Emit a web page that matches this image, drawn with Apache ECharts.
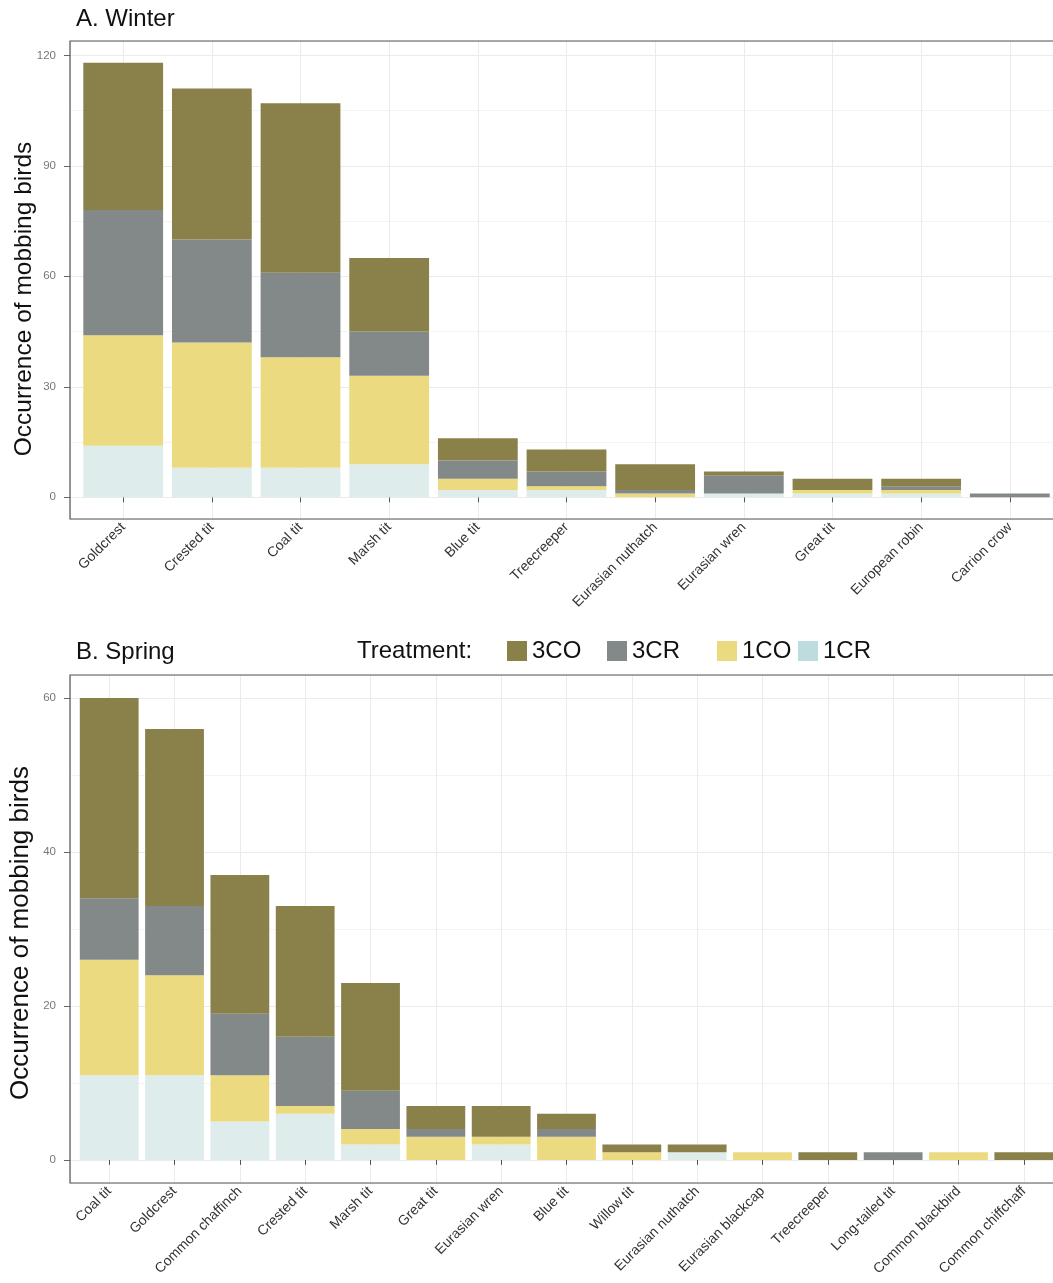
<!DOCTYPE html>
<html>
<head>
<meta charset="utf-8">
<script src="https://cdn.jsdelivr.net/npm/echarts@6/dist/echarts.min.js"></script>
<style>
  html, body { margin: 0; padding: 0; background: #ffffff; }
  #chart { width: 1053px; height: 1283px; }
</style>
</head>
<body>
<div id="chart"></div>
<script>
// Mobbing responses per species, split by treatment (counts)
const winterSpecies = ['Goldcrest', 'Crested tit', 'Coal tit', 'Marsh tit', 'Blue tit', 'Treecreeper',
  'Eurasian nuthatch', 'Eurasian wren', 'Great tit', 'European robin', 'Carrion crow'];
const winter1CR = [14, 8, 8, 9, 2, 2, 0, 1, 1, 1, 0];
const winter1CO = [30, 34, 30, 24, 3, 1, 1, 0, 1, 1, 0];
const winter3CR = [34, 28, 23, 12, 5, 4, 1, 5, 0, 1, 1];
const winter3CO = [40, 41, 46, 20, 6, 6, 7, 1, 3, 2, 0];

const springSpecies = ['Coal tit', 'Goldcrest', 'Common chaffinch', 'Crested tit', 'Marsh tit', 'Great tit',
  'Eurasian wren', 'Blue tit', 'Willow tit', 'Eurasian nuthatch', 'Eurasian blackcap', 'Treecreeper',
  'Long-tailed tit', 'Common blackbird', 'Common chiffchaff'];
const spring1CR = [11, 11, 5, 6, 2, 0, 2, 0, 0, 1, 0, 0, 0, 0, 0];
const spring1CO = [15, 13, 6, 1, 2, 3, 1, 3, 1, 0, 1, 0, 0, 1, 0];
const spring3CR = [8, 9, 8, 9, 5, 1, 0, 1, 0, 0, 0, 0, 1, 0, 0];
const spring3CO = [26, 23, 18, 17, 14, 3, 4, 2, 1, 1, 0, 1, 0, 0, 1];

const treatments = ['3CO', '3CR', '1CO', '1CR'];
const winterTicks = [0, 30, 60, 90, 120];
const springTicks = [0, 20, 40, 60];

const FONT = '"Liberation Sans", Arial, Helvetica, sans-serif';
const COLORS = { '3CO': '#8A804A', '3CR': '#838988', '1CO': '#EBDA7F', '1CR': '#DEECEC' };
const KEY_1CR = '#BEDCDE';

// panel frame in pixels (right edge runs past the canvas)
const FRAME_LEFT = 70, FRAME_RIGHT = 1063, CANVAS_W = 1053;

const panels = [
  { cats: winterSpecies, stacks: { '1CR': winter1CR, '1CO': winter1CO, '3CR': winter3CR, '3CO': winter3CO },
    ticks: winterTicks, top: 41, height: 478 },
  { cats: springSpecies, stacks: { '1CR': spring1CR, '1CO': spring1CO, '3CR': spring3CR, '3CO': spring3CO },
    ticks: springTicks, top: 675, height: 508 }
];

const grid = [], xAxis = [], yAxis = [], series = [];

panels.forEach((p, idx) => {
  const n = p.cats.length;
  const totals = p.cats.map((_, i) => treatments.reduce((s, t) => s + p.stacks[t][i], 0));
  const peak = Math.max(...totals);
  const yMin = -0.05 * peak, yMax = 1.05 * peak;
  const step = p.ticks[1] - p.ticks[0];

  // discrete axis padded by 0.6 of a band on each side
  const band = (FRAME_RIGHT - FRAME_LEFT) / (n + 0.2);
  const pad = 0.1 * band;

  const frameGrid = grid.length;
  grid.push({
    left: FRAME_LEFT, right: CANVAS_W - FRAME_RIGHT, top: p.top, height: p.height,
    show: true, z: 1, backgroundColor: 'rgba(0,0,0,0)',
    borderColor: '#555555', borderWidth: 1.2,
    outerBoundsMode: 'none', containLabel: false
  });
  const dataGrid = grid.length;
  grid.push({
    left: FRAME_LEFT + pad, right: CANVAS_W - FRAME_RIGHT + pad, top: p.top, height: p.height,
    show: false, outerBoundsMode: 'none', containLabel: false
  });

  // frame x axis: vertical grid lines through the band centres
  const frameX = xAxis.length;
  xAxis.push({
    type: 'value', gridIndex: frameGrid, min: 0.4, max: n + 0.6,
    splitNumber: n, minInterval: 1, maxInterval: 1,
    axisLine: { show: false }, axisTick: { show: false }, axisLabel: { show: false },
    splitLine: { show: true, lineStyle: { color: '#EBEBEB', width: 1 } }
  });
  // category axis carrying the species names
  const dataX = xAxis.length;
  xAxis.push({
    type: 'category', gridIndex: dataGrid, data: p.cats, boundaryGap: true,
    axisLine: { show: false },
    axisTick: { show: true, alignWithLabel: true, interval: 0, length: 5, lineStyle: { color: '#555555' } },
    axisLabel: { interval: 0, rotate: 45, margin: 6, hideOverlap: false,
      fontSize: 14, color: '#333333', fontFamily: FONT },
    splitLine: { show: false }
  });

  // value axis with labels, ticks and major grid
  yAxis.push({
    type: 'value', gridIndex: frameGrid, position: 'left', min: yMin, max: yMax,
    minInterval: step, maxInterval: step,
    axisLine: { show: false },
    axisTick: { show: true, length: 6, customValues: p.ticks, lineStyle: { color: '#666666' } },
    axisLabel: {
      customValues: p.ticks, margin: 14, fontSize: 11.5, color: '#777777', fontFamily: FONT,
      formatter: v => (Math.abs(v % step) < 1e-6 ? String(Math.round(v)) : '')
    },
    splitLine: { show: true, lineStyle: { color: '#EBEBEB', width: 1 } }
  });
  // shifted helper axis drawing the minor grid half a step between major lines
  yAxis.push({
    type: 'value', gridIndex: frameGrid, position: 'right', min: yMin + step / 2, max: yMax + step / 2,
    minInterval: step, maxInterval: step,
    axisLine: { show: false }, axisTick: { show: false }, axisLabel: { show: false },
    splitLine: { show: true, lineStyle: { color: '#F3F3F3', width: 1 } }
  });
  // value axis of the bars, same range as the labelled one
  const dataY = yAxis.length;
  yAxis.push({
    type: 'value', gridIndex: dataGrid, min: yMin, max: yMax, show: false,
    splitLine: { show: false }
  });

  ['1CR', '1CO', '3CR', '3CO'].forEach(t => {
    series.push({
      type: 'bar', name: t, xAxisIndex: dataX, yAxisIndex: dataY, stack: 'panel' + idx,
      barWidth: '90%',
      itemStyle: { color: COLORS[t] },
      emphasis: { disabled: true },
      data: p.stacks[t]
    });
  });
});

const legendBase = {
  orient: 'horizontal', top: 639, padding: 0, itemWidth: 20, itemHeight: 20,
  icon: 'rect', selectedMode: false,
  textStyle: { fontSize: 24, color: '#111111', fontFamily: FONT }
};
const legendLeft = { '3CO': 507, '3CR': 607, '1CO': 717, '1CR': 798 };
const legend = treatments.map(t => Object.assign({}, legendBase, {
  left: legendLeft[t],
  data: [t === '1CR' ? { name: t, itemStyle: { color: KEY_1CR } } : { name: t }]
}));

const textStyleBase = { font: '24px ' + FONT, fill: '#111111', verticalAlign: 'middle' };
const graphic = [
  { type: 'text', x: 76, y: 19, style: Object.assign({ text: 'A. Winter', align: 'left' }, textStyleBase) },
  { type: 'text', x: 76, y: 652, style: Object.assign({ text: 'B. Spring', align: 'left' }, textStyleBase) },
  { type: 'text', x: 357, y: 651, style: Object.assign({ text: 'Treatment:', align: 'left' }, textStyleBase) },
  { type: 'text', x: 24, y: 299, rotation: Math.PI / 2,
    style: Object.assign({}, textStyleBase, { text: 'Occurrence of mobbing birds', align: 'center', font: '24.5px ' + FONT }) },
  { type: 'text', x: 21, y: 933, rotation: Math.PI / 2,
    style: Object.assign({}, textStyleBase, { text: 'Occurrence of mobbing birds', align: 'center', font: '26px ' + FONT }) }
];

const chart = echarts.init(document.getElementById('chart'), null, { renderer: 'canvas' });
chart.setOption({
  animation: false,
  backgroundColor: '#ffffff',
  textStyle: { fontFamily: FONT },
  grid, xAxis, yAxis, series, legend, graphic
});
</script>
</body>
</html>
